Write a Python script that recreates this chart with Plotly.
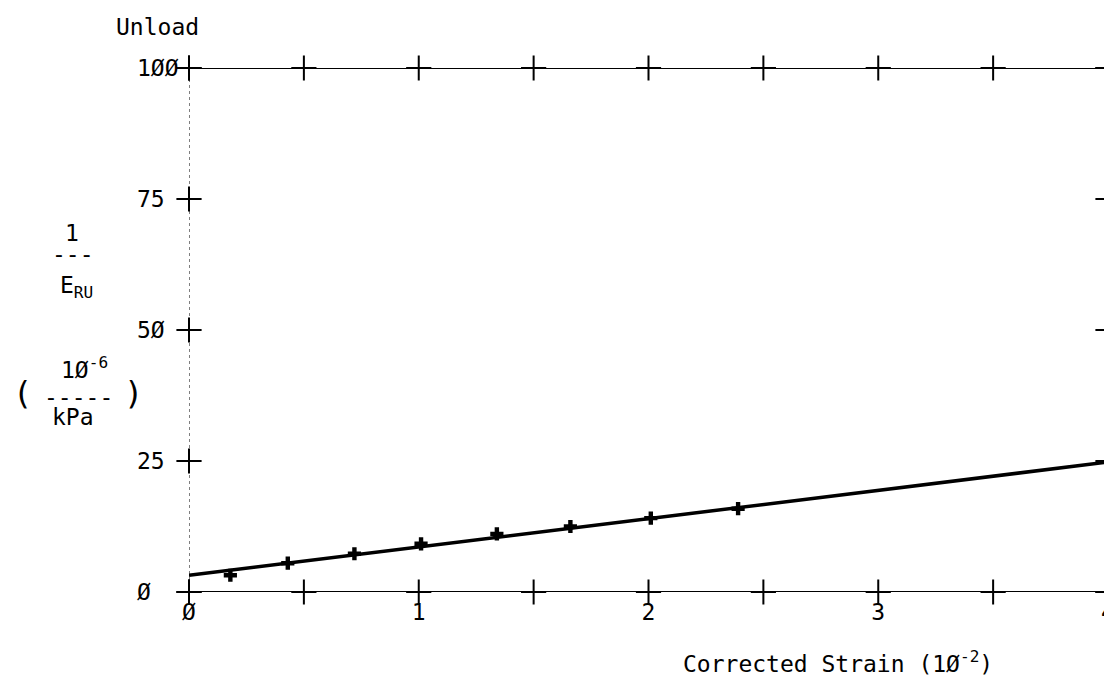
import plotly.graph_objects as go

# Data
strain = [0.18, 0.43, 0.72, 1.01, 1.34, 1.66, 2.01, 2.39]
inv_e = [3.2, 5.5, 7.3, 9.2, 11.1, 12.5, 14.1, 15.9]
fit_x = [0, 4]
fit_y = [3.2, 24.8]
x_ticks = [0, 0.5, 1, 1.5, 2, 2.5, 3, 3.5, 4]
x_label_vals = [0, 1, 2, 3, 4]
x_labels = ["Ø", "1", "2", "3", "4"]
y_ticks = [0, 25, 50, 75, 100]
y_labels = ["Ø", "25", "5Ø", "75", "1ØØ"]

FONT = "DejaVu Sans Mono"
FS = 23
W, H = 1112, 686
OFF = 8  # page body margin
# plot area in page pixels
PX0, PX1, PY0, PY1 = 189, 1108, 68, 592
L = PX0 - OFF
R = W - (PX1 - OFF)
T = PY0 - OFF
B = H - (PY1 - OFF)
PW = W - L - R
PH = H - T - B


def paper_x(px):
    return (px - OFF - L) / PW


def paper_y(py):
    return 1 - (py - OFF - T) / PH


fig = go.Figure()

# axis lines (top/bottom solid, left/right dotted)
fig.add_shape(type="line", xref="x", yref="y", x0=0, x1=4, y0=0, y1=0,
              line=dict(color="black", width=2))
fig.add_shape(type="line", xref="x", yref="y", x0=0, x1=4, y0=100, y1=100,
              line=dict(color="black", width=2))
fig.add_shape(type="line", xref="x", yref="y", x0=0, x1=0, y0=0, y1=100,
              line=dict(color="black", width=1, dash="dot"))
fig.add_shape(type="line", xref="x", yref="y", x0=4, x1=4, y0=0, y1=100,
              line=dict(color="black", width=1, dash="dot"))

# cross tick marks
tick_style = dict(symbol="cross-thin", size=18, line=dict(color="black", width=2))
for xs, ys in [(x_ticks, [0] * len(x_ticks)), (x_ticks, [100] * len(x_ticks)),
               ([0] * len(y_ticks), y_ticks), ([4] * len(y_ticks), y_ticks)]:
    fig.add_trace(go.Scatter(x=xs, y=ys, mode="markers", marker=tick_style,
                             cliponaxis=False, showlegend=False, hoverinfo="skip"))

# fitted line
fig.add_trace(go.Scatter(x=fit_x, y=fit_y, mode="lines",
                         line=dict(color="black", width=3.5),
                         cliponaxis=False, showlegend=False))
# data points
fig.add_trace(go.Scatter(x=strain, y=inv_e, mode="markers",
                         marker=dict(symbol="cross", size=11, color="black"),
                         cliponaxis=False, showlegend=False))

fig.update_xaxes(range=[0, 4], showgrid=False, zeroline=False, showline=False,
                 tickmode="array", tickvals=x_label_vals, ticktext=x_labels,
                 ticks="", ticklabelstandoff=4,
                 tickfont=dict(family=FONT, size=FS, color="black"))
fig.update_yaxes(range=[0, 100], showgrid=False, zeroline=False, showline=False,
                 showticklabels=False)

font = dict(family=FONT, size=FS, color="black")
anns = []
# y tick labels, left aligned as in the plotter output
for v, t in zip(y_ticks, y_labels):
    anns.append(dict(text=t, x=paper_x(135), y=v, xref="paper", yref="y",
                     xanchor="left", yanchor="middle", showarrow=False, font=font))

texts = [
    ("Unload", 157, 27, FS, "center"),
    ("Corrected Strain (1Ø<sup>-2</sup>)", 995, 662, FS, "right"),
    ("1", 72, 233, FS, "center"),
    ("---", 73, 254, FS, "center"),
    ("E<sub>RU</sub>", 76, 287, FS, "center"),
    ("1Ø<sup>-6</sup>", 84, 368, FS, "center"),
    ("-----", 78, 397, FS, "center"),
    ("kPa", 73, 417, FS, "center"),
    ("(", 22, 393, 32, "center"),
    (")", 133, 393, 32, "center"),
]
for t, x, y, s, anc in texts:
    anns.append(dict(text=t, x=paper_x(x), y=paper_y(y), xref="paper", yref="paper",
                     xanchor=anc, yanchor="middle", showarrow=False,
                     font=dict(font, size=s)))

fig.update_layout(
    width=W, height=H,
    margin=dict(l=L, r=R, t=T, b=B, autoexpand=False),
    paper_bgcolor="white", plot_bgcolor="white",
    annotations=anns,
)

fig.write_html("out.html")
